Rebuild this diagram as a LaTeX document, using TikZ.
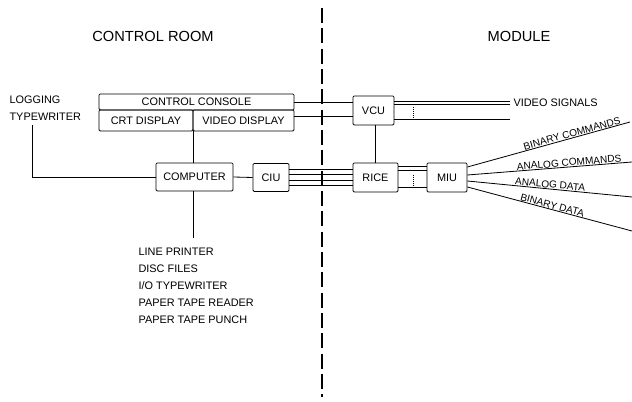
\documentclass[tikz,border=0pt]{standalone}
\usepackage{fontspec}
\setmainfont{Liberation Sans}
\usetikzlibrary{positioning}

\begin{document}
\begin{tikzpicture}[x=0.03cm,y=-0.03cm,line width=0.7pt,
  box/.style={draw,rounded corners=1pt,inner sep=0pt,font=\fontsize{9.3}{11}\selectfont},
  lbl/.style={font=\fontsize{9.3}{11}\selectfont,inner sep=1pt},
  fan/.style={font=\fontsize{8.6}{10}\selectfont,inner sep=0.4pt,sloped,above},
  head/.style={font=\fontsize{12.5}{14}\selectfont},
  sep/.style={line width=1.3pt,dash pattern=on 0.45cm off 0.16cm}]
\useasboundingbox (0,0) rectangle (632,402);
\node[head] (croom) at (153,36) {CONTROL ROOM};
\node[head] (module) at (519,36) {MODULE};
\coordinate (septop) at (322,8);
\coordinate (sepbot) at (322,397);
\draw[sep] (septop) -- (sepbot);
\node[box,minimum width=5.85cm,minimum height=0.48cm] (ccon) at (196.5,102) {CONTROL CONSOLE};
\node[box,minimum width=2.82cm,minimum height=0.63cm] (crt) at (146,120.5) {CRT DISPLAY};
\node[box,minimum width=3.03cm,minimum height=0.63cm] (vdisp) at (243.5,120.5) {VIDEO DISPLAY};
\node[box,minimum width=1.23cm,minimum height=0.87cm] (vcu) at (373.5,110.5) {VCU};
\node[box,minimum width=2.31cm,minimum height=0.84cm] (comp) at (194.5,177) {COMPUTER};
\node[box,minimum width=1.08cm,minimum height=0.84cm] (ciu) at (271,177.5) {CIU};
\node[box,minimum width=1.35cm,minimum height=0.87cm] (rice) at (375.5,177.5) {RICE};
\node[box,minimum width=1.2cm,minimum height=0.87cm] (miu) at (447,177.5) {MIU};
\node[lbl,anchor=west] (logg) at (8,100) {LOGGING};
\node[lbl,anchor=west] (logtw) at (8,117) {TYPEWRITER};
\coordinate (lt) at (32,125);
\draw (comp.west) -| (lt);
\draw (ccon.east) -- (ccon.east -| vcu.west);
\draw (vdisp.east |- 0,116) -- (vcu.west |- 0,116);
\draw (crt.south east) -- (crt.south east |- comp.north);
\coordinate (cdn) at (crt.south east |- 0,238);
\draw (comp.south -| cdn) -- (cdn);
\foreach \t [count=\i] in {LINE PRINTER,DISC FILES,I/O TYPEWRITER,PAPER TAPE READER,PAPER TAPE PUNCH}
  \node[lbl,anchor=west] (dev\i) at (137,235+\i*17) {\t};
\draw (comp.east) -- (ciu.west);
\foreach \y in {169,174,180,185}
  \draw (ciu.east |- 0,\y) -- (rice.west |- 0,\y);
\draw (vcu.south -| rice.north) -- (rice.north);
\coordinate (vsig) at (510,103);
\node[lbl,anchor=west] (vsigl) at (512,103) {VIDEO SIGNALS};
\foreach \y in {101,104,119}
  \draw (vcu.east |- 0,\y) -- (vsig |- 0,\y);
\draw[densely dotted] (413,107) -- (413,117);
\foreach \y in {166,170,187}
  \draw (rice.east |- 0,\y) -- (miu.west |- 0,\y);
\draw[densely dotted] (413,175) -- (413,185);
\coordinate (bc) at (630,122);
\coordinate (ac) at (632,162);
\coordinate (ad) at (632,197);
\coordinate (bd) at (632,231);
\draw (miu.east |- 0,167) -- (bc) node[fan,pos=.65] {BINARY COMMANDS};
\draw (miu.east |- 0,175) -- (ac) node[fan,pos=.62] {ANALOG COMMANDS};
\draw (miu.east |- 0,181) -- (ad) node[fan,pos=.5] {ANALOG DATA};
\draw (miu.east |- 0,187) -- (bd) node[fan,pos=.51] {BINARY DATA};
\end{tikzpicture}
\end{document}
